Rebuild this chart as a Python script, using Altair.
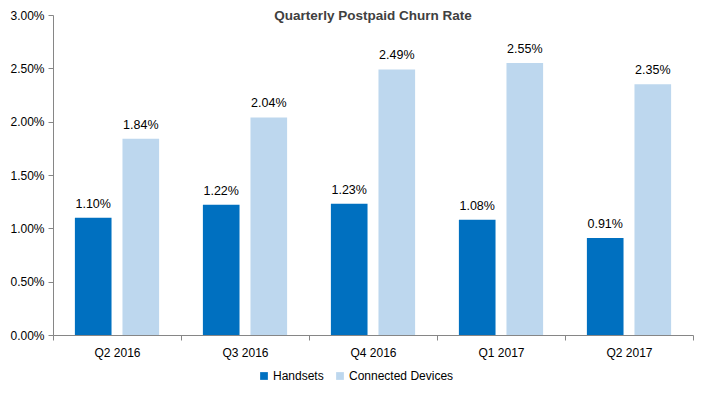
import altair as alt
import pandas as pd

quarters = ["Q2 2016", "Q3 2016", "Q4 2016", "Q1 2017", "Q2 2017"]
handsets = [1.10, 1.22, 1.23, 1.08, 0.91]
connected = [1.84, 2.04, 2.49, 2.55, 2.35]
series = ["Handsets", "Connected Devices"]
colors = ["#0070C0", "#BDD7EE"]

rows = []
for q, h, c in zip(quarters, handsets, connected):
    rows.append({"quarter": q, "series": series[0], "value": h / 100})
    rows.append({"quarter": q, "series": series[1], "value": c / 100})
df = pd.DataFrame(rows)

FONT = "Liberation Sans"

base = alt.Chart(df).encode(
    x=alt.X("quarter:N", sort=quarters, title=None,
            scale=alt.Scale(paddingInner=0, paddingOuter=0),
            axis=alt.Axis(labelAngle=0, tickBand="extent", domainColor="#868686",
                          tickColor="#868686", tickSize=5, labelPadding=7,
                          labelFont=FONT, labelFontSize=12, labelColor="#000000")),
    xOffset=alt.XOffset("series:N", sort=series,
                        scale=alt.Scale(paddingInner=0.23, paddingOuter=0.46)),
    y=alt.Y("value:Q", title=None,
            scale=alt.Scale(domain=[0, 0.03]),
            axis=alt.Axis(format=".2%", values=[0, 0.005, 0.01, 0.015, 0.02, 0.025, 0.03],
                          grid=False, domainColor="#868686", tickColor="#868686",
                          tickSize=5, labelPadding=4,
                          labelFont=FONT, labelFontSize=12, labelColor="#000000")),
)

bars = base.mark_bar().encode(
    color=alt.Color("series:N", sort=series,
                    scale=alt.Scale(domain=series, range=colors),
                    legend=alt.Legend(title=None, orient="none", direction="horizontal",
                                      legendX=205, legendY=355, symbolType="square",
                                      symbolSize=60, symbolStrokeWidth=0,
                                      labelFont=FONT, labelFontSize=12,
                                      labelColor="#000000", columnPadding=10,
                                      symbolOffset=0, labelOffset=3))
)

labels = base.mark_text(baseline="bottom", dy=-7, font=FONT, fontSize=12.5,
                        color="#000000").encode(
    text=alt.Text("value:Q", format=".2%")
)

chart = alt.layer(bars, labels).properties(
    width=640, height=320,
    title=alt.TitleParams("Quarterly Postpaid Churn Rate", font=FONT, fontSize=13.5,
                          fontWeight="bold", color="#404040", anchor="middle",
                          baseline="middle", dy=20, offset=0),
    autosize=alt.AutoSizeParams(type="none"),
    padding={"left": 45, "top": 7, "right": 2, "bottom": 49},
).configure_view(stroke=None)

chart.save("out.html", embed_options={"renderer": "svg", "actions": False})
